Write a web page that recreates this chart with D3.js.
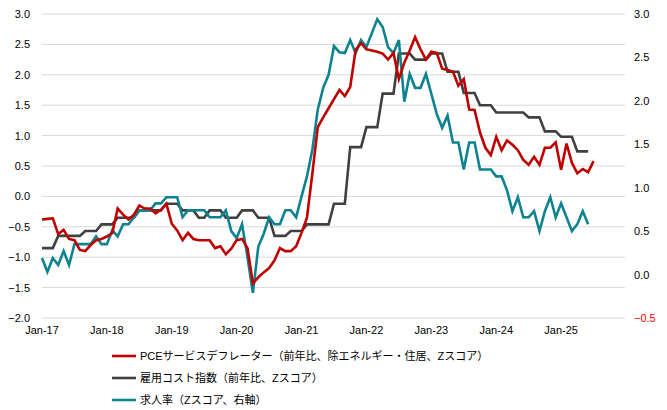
<!DOCTYPE html>
<html><head><meta charset="utf-8">
<script src="https://cdn.jsdelivr.net/npm/d3@7"></script>
<style>body{margin:0;background:#fff}text{font-family:"Liberation Sans","Noto Sans CJK JP",Arial,sans-serif}</style>
</head><body><svg id="c" width="667" height="410"></svg>
<script>
const xTickLabels = ["Jan-17","Jan-18","Jan-19","Jan-20","Jan-21","Jan-22","Jan-23","Jan-24","Jan-25"];
const leftTicks = [3.0,2.5,2.0,1.5,1.0,0.5,0.0,-0.5,-1.0,-1.5,-2.0];
const rightTicks = [3.0,2.5,2.0,1.5,1.0,0.5,0.0,-0.5];
const seriesNames = ["PCEサービスデフレーター（前年比、除エネルギー・住居、Zスコア）","雇用コスト指数（前年比、Zスコア）","求人率（Zスコア、右軸）"];
// monthly from Jan-17
const pce = [-0.38,-0.37,-0.36,-0.62,-0.55,-0.7,-0.72,-0.88,-0.9,-0.8,-0.72,-0.7,
-0.66,-0.6,-0.2,-0.3,-0.38,-0.3,-0.15,-0.2,-0.2,-0.28,-0.22,-0.12,
-0.45,-0.56,-0.72,-0.6,-0.7,-0.72,-0.72,-0.72,-0.85,-0.82,-0.95,-0.86,
-0.72,-0.7,-0.85,-1.43,-1.33,-1.25,-1.18,-1.05,-0.85,-0.9,-0.9,-0.82,
-0.6,-0.35,0.38,1.14,1.3,1.45,1.6,1.75,1.65,1.8,2.41,2.52,
2.42,2.4,2.38,2.35,2.25,2.36,1.93,2.2,2.4,2.62,2.42,2.25,
2.38,2.36,2.1,2.08,2.05,1.82,1.93,1.43,1.42,1.05,0.8,0.68,
0.98,0.76,0.92,0.85,0.76,0.6,0.52,0.65,0.52,0.8,0.8,0.89,
0.44,0.87,0.55,0.38,0.45,0.4,0.58];
const eci = [-0.85,-0.85,-0.85,-0.65,-0.65,-0.65,-0.65,-0.65,-0.57,-0.57,-0.57,-0.46,
-0.46,-0.46,-0.35,-0.35,-0.35,-0.35,-0.23,-0.23,-0.23,-0.23,-0.23,-0.12,
-0.12,-0.12,-0.23,-0.23,-0.23,-0.35,-0.35,-0.23,-0.23,-0.23,-0.35,-0.35,
-0.35,-0.23,-0.23,-0.23,-0.35,-0.35,-0.35,-0.65,-0.65,-0.65,-0.57,-0.57,
-0.57,-0.46,-0.46,-0.46,-0.46,-0.46,-0.12,-0.12,-0.12,0.81,0.81,0.81,
1.14,1.14,1.14,1.69,1.69,1.69,2.35,2.35,2.35,2.25,2.25,2.25,
2.35,2.35,2.35,2.05,2.05,2.05,1.7,1.7,1.7,1.5,1.5,1.5,
1.38,1.38,1.38,1.38,1.38,1.38,1.3,1.3,1.3,1.07,1.07,1.07,
0.98,0.98,0.98,0.74,0.74,0.74];
const jobOpenings = [0.19,0.03,0.19,0.11,0.27,0.11,0.35,0.35,0.35,0.35,0.44,0.35,
0.35,0.51,0.44,0.58,0.58,0.66,0.74,0.74,0.74,0.82,0.82,0.89,
0.89,0.89,0.66,0.74,0.74,0.74,0.74,0.66,0.66,0.66,0.74,0.5,
0.42,0.58,0.2,-0.21,0.32,0.47,0.66,0.58,0.58,0.74,0.74,0.66,
0.9,1.13,1.44,1.9,2.15,2.3,2.63,2.56,
2.55,2.7,2.55,2.7,2.62,2.78,2.94,2.85,2.62,2.55,2.7,1.99,2.31,2.15,2.15,2.31,
2.08,1.85,1.69,1.83,1.52,1.52,1.21,1.52,1.52,1.21,1.21,1.21,
1.13,1.13,0.97,0.73,0.89,0.66,0.66,0.73,0.5,0.73,0.89,0.66,
0.82,0.66,0.5,0.58,0.73,0.58];
const colors = ["#C00000","#404040","#0E8390"];

const svg = d3.select("#c");
const x = d3.scaleLinear().domain([0,108]).range([42,626]);
const yL = d3.scaleLinear().domain([-2,3]).range([318,14]);
const yR = d3.scaleLinear().domain([-0.5,3]).range([318,14]);

svg.append("g").selectAll("line").data(leftTicks).join("line")
 .attr("x1",42).attr("x2",625).attr("y1",d=>yL(d)).attr("y2",d=>yL(d))
 .attr("stroke","#d9d9d9").attr("stroke-width",1);
svg.append("g").selectAll("text").data(leftTicks).join("text")
 .attr("x",30).attr("y",d=>yL(d)+4).attr("text-anchor","end").attr("font-size",11).attr("fill","#000")
 .text(d=>d3.format(".1f")(d));
svg.append("g").selectAll("text").data(rightTicks).join("text")
 .attr("x",634).attr("y",d=>yR(d)+4).attr("font-size",11).attr("fill",d=>d<0?"#FF0000":"#000")
 .text(d=>d3.format(".1f")(d));
svg.append("g").selectAll("text").data(xTickLabels).join("text")
 .attr("x",(d,i)=>x(i*12)).attr("y",334).attr("text-anchor","middle").attr("font-size",11)
 .text(d=>d);

const lineL = d3.line().x((d,i)=>x(i)).y(d=>yL(d));
const lineR = d3.line().x((d,i)=>x(i)).y(d=>yR(d));
svg.append("path").attr("d",lineL(eci)).attr("fill","none").attr("stroke",colors[1]).attr("stroke-width",2.6);
svg.append("path").attr("d",lineR(jobOpenings)).attr("fill","none").attr("stroke",colors[2]).attr("stroke-width",2.6);
svg.append("path").attr("d",lineL(pce)).attr("fill","none").attr("stroke",colors[0]).attr("stroke-width",2.6);

const lg = svg.append("g");
seriesNames.forEach((n,i)=>{
  const yy = 356 + i*22;
  lg.append("line").attr("x1",112).attr("x2",136).attr("y1",yy).attr("y2",yy).attr("stroke",colors[i]).attr("stroke-width",2.6);
  lg.append("text").attr("x",140).attr("y",yy+4).attr("font-size",11).text(n);
});
</script></body></html>
